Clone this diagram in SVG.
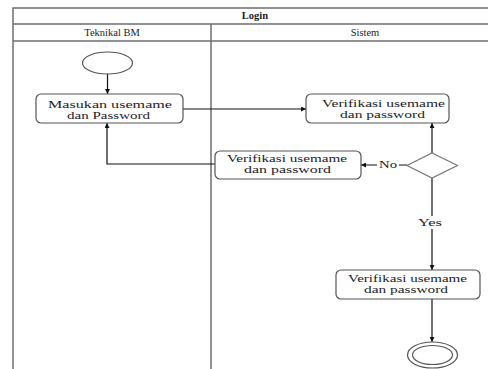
<svg xmlns="http://www.w3.org/2000/svg" width="488" height="369" viewBox="0 0 488 369">
  <style>
    .frame { fill: none; stroke: #6e6e6e; stroke-width: 1.5; }
    .node { fill: #ffffff; stroke: #555555; stroke-width: 1.2; }
    .flow { fill: none; stroke: #111111; stroke-width: 1.2; }
    .lbl { font-family: 'Liberation Serif', 'DejaVu Serif', 'Times New Roman', serif; font-size: 11px; fill: #1c1c28; }
    .hdr { font-family: 'Liberation Serif', 'DejaVu Serif', 'Times New Roman', serif; font-size: 10.5px; fill: #1c1c28; text-anchor: middle; }
  </style>
  <defs>
    <marker id="arrow" viewBox="0 0 10 10" refX="10" refY="5" markerWidth="5" markerHeight="5" orient="auto" markerUnits="userSpaceOnUse">
      <path d="M0,0 L10,5 L0,10 z" fill="#111111"/>
    </marker>
  </defs>
  <rect width="488" height="369" fill="#ffffff"/>

  <!-- swimlane frame -->
  <g id="swimlanes">
    <path class="frame" d="M13,375 V8 H500"/>
    <line class="frame" x1="13" y1="24" x2="500" y2="24" stroke="#8a8a8a"/>
    <line class="frame" x1="13" y1="41" x2="500" y2="41"/>
    <line class="frame" x1="211" y1="24" x2="211" y2="375"/>
    <text class="hdr" x="255" y="19" font-weight="bold">Login</text>
    <text class="hdr" x="112" y="36">Teknikal BM</text>
    <text class="hdr" x="365" y="36">Sistem</text>
  </g>

  <!-- connectors -->
  <g id="connectors">
    <line class="flow" x1="107.5" y1="74" x2="107.5" y2="94" marker-end="url(#arrow)"/>
    <line class="flow" x1="183" y1="109" x2="306" y2="109" marker-end="url(#arrow)"/>
    <line class="flow" x1="432" y1="153" x2="432" y2="123" marker-end="url(#arrow)"/>
    <line class="flow" x1="407" y1="165" x2="361" y2="165" marker-end="url(#arrow)"/>
    <polyline class="flow" points="215,164 107,164 107,123" marker-end="url(#arrow)"/>
    <line class="flow" x1="432" y1="178" x2="432" y2="270" marker-end="url(#arrow)"/>
    <line class="flow" x1="432" y1="299" x2="432" y2="342" marker-end="url(#arrow)"/>
    <rect x="377" y="158" width="22" height="13" fill="#ffffff"/>
    <text class="lbl" x="379" y="168" textLength="18" lengthAdjust="spacingAndGlyphs">No</text>
    <rect x="417" y="216" width="27" height="13" fill="#ffffff"/>
    <text class="lbl" x="418" y="226" textLength="24" lengthAdjust="spacingAndGlyphs">Yes</text>
  </g>

  <g id="start">
    <ellipse class="node" cx="107.5" cy="63" rx="25" ry="11"/>
  </g>

  <g id="masukan">
    <rect class="node" x="36" y="94" width="147" height="29" rx="5"/>
    <text class="lbl" x="48" y="108" textLength="124" lengthAdjust="spacingAndGlyphs">Masukan usemame</text>
    <text class="lbl" x="67" y="119" textLength="83" lengthAdjust="spacingAndGlyphs">dan Password</text>
  </g>

  <g id="verifikasi-1">
    <rect class="node" x="306" y="94" width="143" height="29" rx="5"/>
    <text class="lbl" x="322" y="107" textLength="123" lengthAdjust="spacingAndGlyphs">Verifikasi usemame</text>
    <text class="lbl" x="340" y="118" textLength="85" lengthAdjust="spacingAndGlyphs">dan password</text>
  </g>

  <g id="decision">
    <polygon points="432,153 457.5,165.5 432,178 407,165.5" fill="#ffffff" stroke="#777777" stroke-width="1.2"/>
  </g>

  <g id="verifikasi-2">
    <rect class="node" x="215" y="151" width="146" height="28" rx="5"/>
    <text class="lbl" x="227" y="162" textLength="120" lengthAdjust="spacingAndGlyphs">Verifikasi usemame</text>
    <text class="lbl" x="244" y="173" textLength="87" lengthAdjust="spacingAndGlyphs">dan password</text>
  </g>

  <g id="verifikasi-3">
    <rect class="node" x="336" y="270" width="144" height="29" rx="5"/>
    <text class="lbl" x="348" y="282" textLength="119" lengthAdjust="spacingAndGlyphs">Verifikasi usemame</text>
    <text class="lbl" x="364" y="293" textLength="84" lengthAdjust="spacingAndGlyphs">dan password</text>
  </g>

  <g id="end">
    <ellipse class="node" cx="432.5" cy="355" rx="25" ry="13"/>
    <ellipse class="node" cx="432.5" cy="355" rx="20" ry="9.5"/>
  </g>
</svg>
